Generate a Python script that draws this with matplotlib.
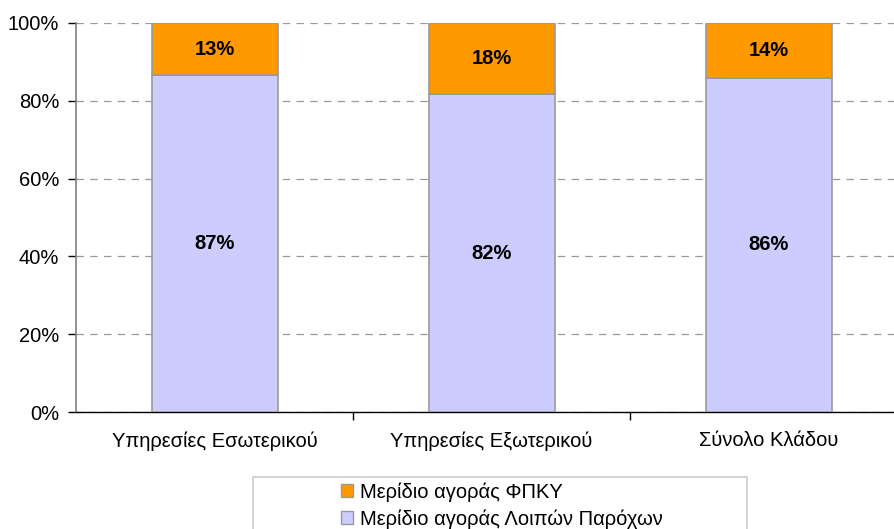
import matplotlib
matplotlib.use("Agg")
import matplotlib.pyplot as plt
from matplotlib.patches import Patch, Rectangle
import numpy as np

plt.rcParams['font.family'] = ['Liberation Sans', 'DejaVu Sans']

categories = ["Υπηρεσίες Εσωτερικού", "Υπηρεσίες Εξωτερικού", "Σύνολο Κλάδου"]
others = [86.6, 81.7, 85.9]
fpky = [13.4, 18.3, 14.1]
series_names = ["Μερίδιο αγοράς ΦΠΚΥ", "Μερίδιο αγοράς Λοιπών Παρόχων"]
yticks = [0, 20, 40, 60, 80, 100]

W, H = 895, 529
fig = plt.figure(figsize=(W / 100, H / 100), dpi=100)
ax_left, ax_right, ax_top, ax_bot = 76, 895, 23, 412
ax = fig.add_axes([ax_left / W, 1 - ax_bot / H, (ax_right - ax_left) / W, (ax_bot - ax_top) / H])

x = np.arange(len(categories))
bw = 126 / 277
c_other = "#CCCCFF"
c_fpky = "#FF9900"
ax.bar(x, others, width=bw, color=c_other, edgecolor="#999999", linewidth=1.2, zorder=3)
ax.bar(x, fpky, bottom=others, width=bw, color=c_fpky, edgecolor="#999999", linewidth=1.2, zorder=3)

for i in range(len(categories)):
    ax.text(x[i], others[i] / 2, f"{round(others[i])}%", ha="center", va="center",
            fontsize=14.5, fontweight="bold", zorder=4)
    ax.text(x[i], others[i] + fpky[i] / 2, f"{round(fpky[i])}%", ha="center", va="center",
            fontsize=14.5, fontweight="bold", zorder=4)

ax.set_xlim(-0.5, -0.5 + (ax_right - ax_left) / 277)
ax.set_ylim(0, 100)
ax.set_yticks(yticks)
ax.set_yticklabels([f"{v}%" for v in yticks], fontsize=14.5)
ax.yaxis.grid(True, linestyle=(0, (6, 5)), color="#999999", linewidth=0.9, zorder=0)
ax.set_axisbelow(True)

ax.set_xticks([0.5, 1.5])
ax.set_xticklabels([])
ax.set_xticks(x, minor=True)
ax.set_xticklabels(categories, minor=True, fontsize=14.5)
ax.tick_params(axis="x", which="minor", length=0, pad=14)
ax.tick_params(axis="x", which="major", length=6, width=1, color="black", direction="out")
ax.tick_params(axis="y", length=6, width=1, color="black", direction="out", pad=6)

for s in ["top", "right"]:
    ax.spines[s].set_visible(False)
ax.spines["left"].set_color("#808080")
ax.spines["left"].set_linewidth(1.2)
ax.spines["bottom"].set_color("black")
ax.spines["bottom"].set_linewidth(1)

# legend frame (extends past the bottom of the picture)
fig.patches.append(Rectangle((253 / W, -0.2), (747 - 253) / W, 0.2 + 1 - 477 / H,
                             transform=fig.transFigure, facecolor="none",
                             edgecolor="#CCCCCC", linewidth=1.2))

handles = [Patch(facecolor=c_fpky, edgecolor="#999999"), Patch(facecolor=c_other, edgecolor="#999999")]
leg = fig.legend(handles, series_names, loc="upper left",
                 bbox_to_anchor=(341 / W, 1 - 482 / H), fontsize=14.5,
                 frameon=False, handlelength=0.6, handleheight=0.6, handletextpad=0.35,
                 borderpad=0, labelspacing=0.38, borderaxespad=0)

fig.savefig("out.png", dpi=100)
